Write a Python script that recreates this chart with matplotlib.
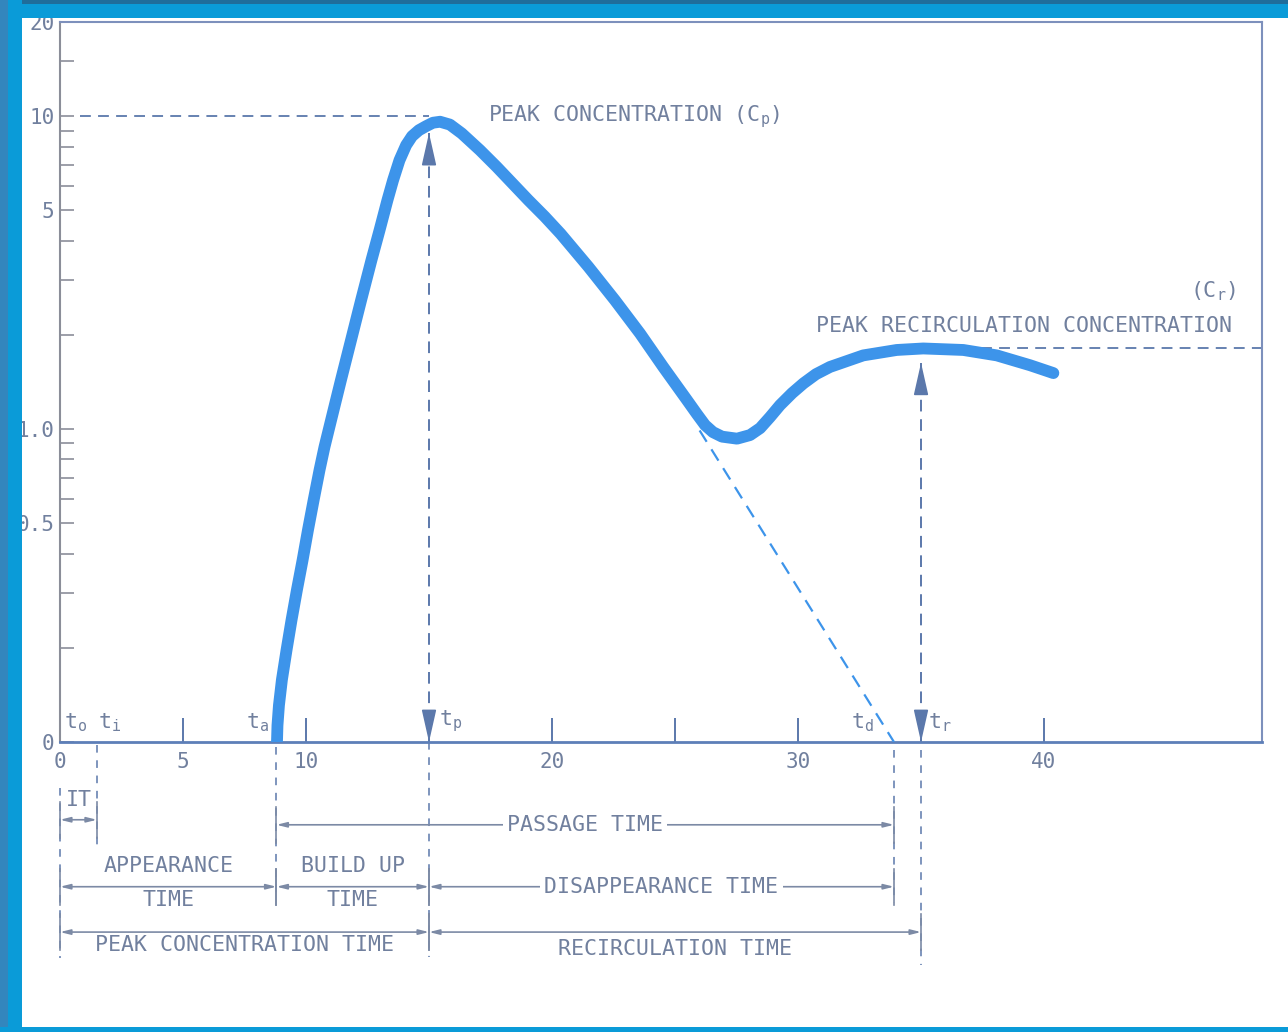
import matplotlib
matplotlib.use("Agg")
import matplotlib.pyplot as plt
from matplotlib.patches import Rectangle
from matplotlib.ticker import FixedLocator, NullFormatter

# stencil-like lettering: monospaced text everywhere
plt.rcParams["font.family"] = ["DejaVu Sans Mono"]
plt.rcParams["mathtext.fontset"] = "custom"
plt.rcParams["mathtext.rm"] = "DejaVu Sans Mono"

# indicator-dilution curve (time, concentration on log axis)
curve_t = [8.82, 8.84, 8.90, 9.02, 9.21, 9.41, 9.63, 9.86, 10.08, 10.31, 10.55, 10.75,
           11.02, 11.42, 11.83, 12.24, 12.66, 12.99, 13.31, 13.54, 13.80, 14.07, 14.31,
           14.59, 14.88, 15.16, 15.45, 15.85, 16.33, 17.07, 17.75, 19.04, 19.70, 20.35,
           21.48, 22.56, 23.58, 24.52, 25.48, 25.89, 26.22, 26.54, 26.91, 27.52, 28.05,
           28.46, 28.86, 29.27, 29.76, 30.22, 30.73, 31.30, 32.65, 34.01, 35.09, 36.72,
           38.08, 39.43, 40.38]
curve_c = [0.100, 0.113, 0.131, 0.158, 0.197, 0.245, 0.306, 0.381, 0.476, 0.593, 0.740,
           0.876, 1.069, 1.434, 1.924, 2.583, 3.467, 4.323, 5.39, 6.245, 7.234, 8.08, 8.63,
           9.02, 9.29, 9.53, 9.60, 9.40, 8.81, 7.79, 6.89, 5.39, 4.78, 4.21,
           3.30, 2.58, 2.02, 1.58, 1.24, 1.117, 1.030, 0.978, 0.946, 0.932, 0.957,
           1.007, 1.092, 1.193, 1.303, 1.40, 1.498, 1.58, 1.72, 1.79, 1.81, 1.79,
           1.72, 1.60, 1.51]

# extrapolated exponential decay (dashed)
decay_t = [26.0, 33.9]
decay_c = [0.99, 0.10]

# time markers
t0, ti, ta, tp, td, tr = 0.0, 1.5, 8.8, 15.0, 33.9, 35.0
cp = 9.6     # peak concentration
cr = 1.81    # peak recirculation concentration
cp_line = 10

xticks = [0, 5, 10, 20, 30, 40]
xtick_labels = ["0", "5", "10", "20", "30", "40"]
xminor = [15, 25, 35]
yticks = [0.1, 0.5, 1.0, 5, 10, 20]
ytick_labels = ["0", "0.5", "1.0", "5", "10", "20"]
yminor = [0.2, 0.3, 0.4, 0.6, 0.7, 0.8, 0.9, 2, 3, 4, 6, 7, 8, 9, 15]

blue = "#3d94ea"
grey_blue = "#5b78ab"
txt = "#71809e"
axis_grey = "#8b8e99"
fs = 15.5

W, H = 1288, 1032
fig = plt.figure(figsize=(W / 100, H / 100), dpi=100)
fig.patch.set_facecolor("white")
ax = fig.add_axes([60 / W, 1 - 742 / H, (1262 - 60) / W, (742 - 22) / H])
ax.set_yscale("log")
ax.set_ylim(0.1, 20)
ax.set_xlim(0, 48.86)

# ticks
ax.set_xticks(xticks)
ax.set_xticklabels(xtick_labels)
ax.xaxis.set_minor_locator(FixedLocator(xminor))
ax.set_yticks(yticks)
ax.set_yticklabels(ytick_labels)
ax.yaxis.set_minor_locator(FixedLocator(yminor))
ax.yaxis.set_minor_formatter(NullFormatter())
ax.tick_params(axis="x", which="both", direction="in", length=17, width=1.4,
               color=grey_blue, labelsize=15, labelcolor=txt, pad=7)
ax.tick_params(axis="y", which="both", direction="in", length=10, width=1.2,
               color=axis_grey, labelsize=15, labelcolor=txt, pad=4)

ax.spines["left"].set_color(axis_grey)
ax.spines["left"].set_linewidth(1.5)
ax.spines["bottom"].set_color("#5d7fb8")
ax.spines["bottom"].set_linewidth(2)
for s in ["top", "right"]:
    ax.spines[s].set_color("#7d90bc")
    ax.spines[s].set_linewidth(1.5)

# main curve + extrapolation
ax.plot(curve_t, curve_c, color=blue, lw=8.5, solid_capstyle="round",
        solid_joinstyle="round", zorder=4)
ax.plot(decay_t, decay_c, color=blue, lw=1.6, ls=(0, (6, 4)), zorder=3)

# horizontal reference lines
dash = (0, (6, 4))
ax.plot([0.8, tp], [cp_line, cp_line], color=grey_blue, lw=1.3, ls=dash, zorder=2)
ax.plot([36.7, 48.86], [cr, cr], color=grey_blue, lw=1.3, ls=dash, zorder=2)

# vertical arrows at tp and tr
for t, top in [(tp, cp * 0.92), (tr, cr * 0.9)]:
    ax.plot([t, t], [0.1, top], color=grey_blue, lw=1.4, ls=dash, zorder=2)
    ax.annotate("", xy=(t, top), xytext=(0, -28), textcoords="offset pixels",
                arrowprops=dict(arrowstyle="-|>,head_length=2.0,head_width=0.45",
                                color=grey_blue, lw=1.2, shrinkA=0, shrinkB=0))
    ax.annotate("", xy=(t, 0.1), xytext=(0, 28), textcoords="offset pixels",
                arrowprops=dict(arrowstyle="-|>,head_length=2.0,head_width=0.45",
                                color=grey_blue, lw=1.2, shrinkA=0, shrinkB=0))

# labels inside plot
ax.text(17.4, 10.0, r"PEAK CONCENTRATION (C$_\mathrm{p}$)", color=txt, fontsize=fs,
        ha="left", va="center")
ax.text(47.8, 2.75, r"(C$_\mathrm{r}$)", color=txt, fontsize=fs, ha="right", va="center")
ax.text(47.65, 2.13, "PEAK RECIRCULATION CONCENTRATION", color=txt, fontsize=fs,
        ha="right", va="center")

tlabels = [(t0, r"t$_\mathrm{o}$", 4, "left"), (ti, r"t$_\mathrm{i}$", 1, "left"),
           (ta, r"t$_\mathrm{a}$", -8, "right"), (tp, r"t$_\mathrm{p}$", 10, "left"),
           (td, r"t$_\mathrm{d}$", -20, "right"), (tr, r"t$_\mathrm{r}$", 7, "left")]
for t, lab, dx, ha in tlabels:
    ax.annotate(lab, xy=(t, 0.1), xytext=(dx, 8), textcoords="offset pixels",
                color=txt, fontsize=fs, ha=ha, va="bottom")

# annotation area below the axis (x in data, y in axes fraction)
tx = ax.get_xaxis_transform()
vlines = [(t0, -0.064, -0.300), (ti, -0.004, -0.147), (ta, -0.007, -0.215),
          (tp, 0.0, -0.299), (td, -0.011, -0.224), (tr, -0.011, -0.310)]
for t, y1, y2 in vlines:
    ax.plot([t, t], [y1, y2], transform=tx, clip_on=False, color=grey_blue,
            lw=1.1, ls=(0, (5, 5)))


def span(a, b, y, label=None, inline=False, above=None, below=None, dy=0.0):
    for t in (a, b):
        ax.plot([t, t], [y + 0.025, y - 0.025], transform=tx, clip_on=False,
                color="#7c8aa5", lw=1.2)
    ax.annotate("", xy=(b, y), xytext=(a, y), xycoords=tx, textcoords=tx,
                annotation_clip=False,
                arrowprops=dict(arrowstyle="<|-|>,head_length=0.6,head_width=0.15",
                                color="#7c8aa5", lw=1.2, shrinkA=0, shrinkB=0))
    mid = (a + b) / 2
    if inline:
        ax.text(mid, y, label, transform=tx, clip_on=False, color=txt, fontsize=fs,
                ha="center", va="center", zorder=6,
                bbox=dict(facecolor="white", edgecolor="none", pad=3))
    if above:
        ax.text(mid, y + 0.029, above, transform=tx, clip_on=False, color=txt,
                fontsize=fs, ha="center", va="center")
    if below:
        ax.text(mid, y - 0.018 - dy, below, transform=tx, clip_on=False, color=txt,
                fontsize=fs, ha="center", va="center")


ax.text((t0 + ti) / 2, -0.081, "IT", transform=tx, clip_on=False, color=txt,
        fontsize=fs, ha="center", va="center")
span(t0, ti, -0.108)
span(ta, td, -0.115, "PASSAGE TIME", inline=True)
span(t0, ta, -0.201, above="APPEARANCE", below="TIME")
span(ta, tp, -0.201, above="BUILD UP", below="TIME")
span(tp, td, -0.201, "DISAPPEARANCE TIME", inline=True)
span(t0, tp, -0.264, below="PEAK CONCENTRATION TIME")
span(tp, tr, -0.264, below="RECIRCULATION TIME", dy=0.006)

# blue slide frame
frame = [((0, 1 - 18 / H), 1, 18 / H, "#0a9bd8"),
         ((0, 1 - 4 / H), 1, 4 / H, "#1f6d9b"),
         ((0, 0), 22 / W, 1, "#0a9bd8"),
         ((0, 0), 8 / W, 1, "#3386bd"),
         ((0, 0), 1, 5 / H, "#0a9bd8")]
for xy, w, h, c in frame:
    fig.patches.append(Rectangle(xy, w, h, transform=fig.transFigure, figure=fig,
                                 facecolor=c, edgecolor="none", zorder=10))

fig.savefig("out.png", dpi=100)
